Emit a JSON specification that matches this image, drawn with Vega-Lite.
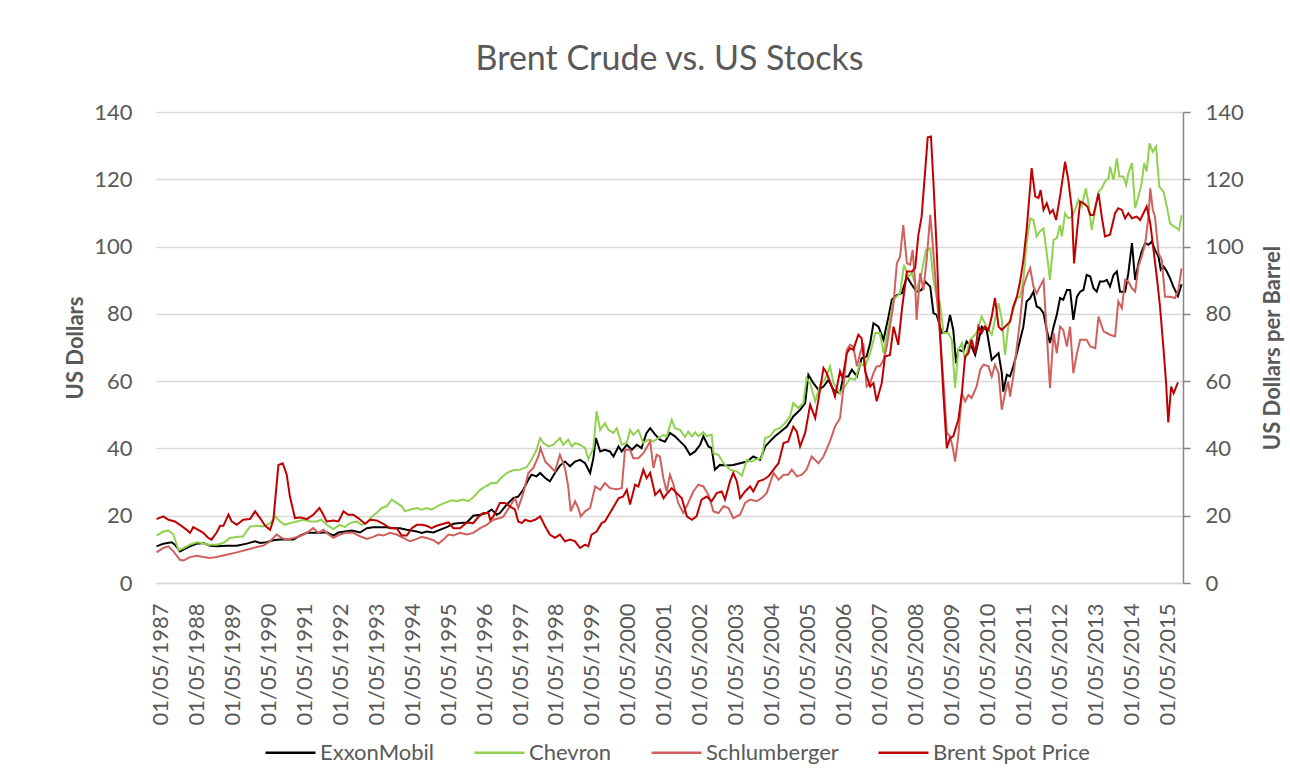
{
"$schema":"https://vega.github.io/schema/vega-lite/v6.json",
"width":1027,"height":471,
"autosize":{"type":"none"},
"padding":{"left":156,"top":112,"right":107,"bottom":199},
"background":"white",
"config":{"font":"Lato","view":{"stroke":null},
"axis":{"labelColor":"#595959","titleColor":"#595959","labelFont":"Lato","titleFont":"Lato","labelFontSize":22,"titleFontSize":22,"titleFontWeight":"bold"},
"legend":{"labelColor":"#595959","labelFont":"Lato","labelFontSize":22}},
"title":{"text":"Brent Crude vs. US Stocks","fontSize":34,"font":"Lato","fontWeight":"normal","color":"#595959","anchor":"middle","offset":24},
"encoding":{"x":{"field":"t","type":"quantitative","scale":{"domain":[1986.875,2015.44],"nice":false,"zero":false},
"axis":{"values":[1987,1988,1989,1990,1991,1992,1993,1994,1995,1996,1997,1998,1999,2000,2001,2002,2003,2004,2005,2006,2007,2008,2009,2010,2011,2012,2013,2014,2015],
"labelExpr":"'01/05/' + datum.value","labelAngle":270,"labelAlign":"right","labelBaseline":"middle","labelPadding":20,"ticks":false,"tickSize":0,"grid":false,"domain":true,"domainColor":"#D9D9D9","domainWidth":1.5,"title":null,"labelOverlap":false}},
"color":{"type":"nominal","scale":{"domain":["ExxonMobil","Chevron","Schlumberger","Brent Spot Price"],"range":["#000000","#92D050","#D0605E","#C00000"]},
"legend":{"title":null,"orient":"none","legendX":108,"legendY":614,"direction":"horizontal","symbolType":"stroke","symbolSize":2500,"symbolStrokeWidth":2.5,"labelOffset":3,"columnPadding":34}}},
"layer":[
{"encoding":{"y":{"field":"v","type":"quantitative","scale":{"domain":[0,140],"nice":false},
"axis":{"values":[0,20,40,60,80,100,120,140],"title":"US Dollars","grid":true,"gridColor":"#D9D9D9","gridWidth":1.5,"domain":false,"ticks":false,"tickSize":0,"labelPadding":24,"titlePadding":6}}},
"layer":[
{"data":{"values":[
{"t":1986.89,"v":10.9},{"t":1987.08,"v":11.7},{"t":1987.31,"v":12.1},{"t":1987.4,"v":11.4},{"t":1987.54,"v":9.4},{"t":1987.64,"v":9.9},{"t":1987.82,"v":10.9},{"t":1988.01,"v":11.7},{"t":1988.19,"v":11.9},{"t":1988.38,"v":11.1},{"t":1988.56,"v":10.9},{"t":1988.84,"v":11.1},{"t":1989.12,"v":11.1},{"t":1989.4,"v":11.7},{"t":1989.63,"v":12.4},{"t":1989.77,"v":11.9},{"t":1989.95,"v":12.1},{"t":1990.14,"v":12.7},{"t":1990.32,"v":12.9},{"t":1990.51,"v":12.9},{"t":1990.7,"v":12.9},{"t":1990.88,"v":14.1},{"t":1991.07,"v":14.9},{"t":1991.25,"v":14.9},{"t":1991.44,"v":14.9},{"t":1991.62,"v":15.1},{"t":1991.81,"v":14.1},{"t":1991.95,"v":15.0},{"t":1992.13,"v":15.3},{"t":1992.32,"v":15.6},{"t":1992.55,"v":15.0},{"t":1992.74,"v":16.3},{"t":1992.92,"v":16.6},{"t":1993.11,"v":16.6},{"t":1993.29,"v":16.6},{"t":1993.48,"v":16.3},{"t":1993.66,"v":16.3},{"t":1993.85,"v":15.8},{"t":1994.13,"v":15.3},{"t":1994.27,"v":14.9},{"t":1994.4,"v":15.3},{"t":1994.59,"v":15.0},{"t":1994.77,"v":15.8},{"t":1994.96,"v":16.6},{"t":1995.15,"v":17.6},{"t":1995.33,"v":17.8},{"t":1995.52,"v":18.0},{"t":1995.7,"v":20.0},{"t":1995.89,"v":20.3},{"t":1996.07,"v":20.8},{"t":1996.21,"v":21.8},{"t":1996.35,"v":20.3},{"t":1996.44,"v":20.8},{"t":1996.63,"v":23.3},{"t":1996.81,"v":25.2},{"t":1996.95,"v":25.7},{"t":1997.09,"v":27.7},{"t":1997.23,"v":30.7},{"t":1997.32,"v":32.2},{"t":1997.46,"v":31.7},{"t":1997.56,"v":32.7},{"t":1997.7,"v":31.2},{"t":1997.83,"v":30.2},{"t":1997.97,"v":32.7},{"t":1998.11,"v":34.9},{"t":1998.25,"v":36.1},{"t":1998.39,"v":34.7},{"t":1998.53,"v":36.1},{"t":1998.67,"v":36.6},{"t":1998.81,"v":35.6},{"t":1998.95,"v":32.7},{"t":1999.04,"v":37.1},{"t":1999.11,"v":43.1},{"t":1999.23,"v":39.1},{"t":1999.36,"v":39.6},{"t":1999.5,"v":39.1},{"t":1999.6,"v":37.6},{"t":1999.74,"v":40.6},{"t":1999.83,"v":39.1},{"t":1999.97,"v":41.1},{"t":2000.11,"v":39.6},{"t":2000.25,"v":41.1},{"t":2000.38,"v":40.1},{"t":2000.52,"v":44.6},{"t":2000.62,"v":46.0},{"t":2000.76,"v":44.1},{"t":2000.89,"v":42.6},{"t":2001.03,"v":42.0},{"t":2001.17,"v":44.6},{"t":2001.31,"v":43.6},{"t":2001.45,"v":42.1},{"t":2001.59,"v":40.6},{"t":2001.73,"v":38.1},{"t":2001.87,"v":39.1},{"t":2002.01,"v":41.1},{"t":2002.1,"v":43.6},{"t":2002.24,"v":40.6},{"t":2002.33,"v":40.1},{"t":2002.42,"v":33.7},{"t":2002.56,"v":35.1},{"t":2002.75,"v":34.9},{"t":2002.93,"v":35.1},{"t":2003.12,"v":35.6},{"t":2003.31,"v":36.1},{"t":2003.49,"v":37.6},{"t":2003.68,"v":36.6},{"t":2003.82,"v":40.6},{"t":2003.95,"v":42.1},{"t":2004.09,"v":43.6},{"t":2004.23,"v":44.8},{"t":2004.42,"v":46.5},{"t":2004.6,"v":49.5},{"t":2004.79,"v":51.5},{"t":2004.93,"v":53.5},{"t":2005.02,"v":61.9},{"t":2005.16,"v":59.4},{"t":2005.3,"v":57.4},{"t":2005.44,"v":58.4},{"t":2005.58,"v":60.4},{"t":2005.72,"v":57.4},{"t":2005.9,"v":56.4},{"t":2005.99,"v":61.4},{"t":2006.13,"v":61.4},{"t":2006.23,"v":63.4},{"t":2006.37,"v":61.4},{"t":2006.5,"v":66.8},{"t":2006.64,"v":67.3},{"t":2006.74,"v":71.3},{"t":2006.83,"v":77.2},{"t":2006.97,"v":76.2},{"t":2007.11,"v":72.3},{"t":2007.25,"v":79.2},{"t":2007.34,"v":84.2},{"t":2007.48,"v":85.6},{"t":2007.62,"v":86.1},{"t":2007.76,"v":91.1},{"t":2007.9,"v":88.6},{"t":2008.03,"v":86.6},{"t":2008.17,"v":87.1},{"t":2008.27,"v":89.6},{"t":2008.41,"v":88.1},{"t":2008.5,"v":80.2},{"t":2008.59,"v":79.7},{"t":2008.73,"v":74.3},{"t":2008.87,"v":74.8},{"t":2008.96,"v":79.7},{"t":2009.05,"v":75.2},{"t":2009.13,"v":65.3},{"t":2009.19,"v":69.3},{"t":2009.33,"v":68.8},{"t":2009.42,"v":71.8},{"t":2009.56,"v":70.3},{"t":2009.66,"v":67.8},{"t":2009.75,"v":71.8},{"t":2009.84,"v":76.2},{"t":2009.98,"v":75.2},{"t":2010.12,"v":66.3},{"t":2010.21,"v":67.3},{"t":2010.31,"v":68.3},{"t":2010.4,"v":62.4},{"t":2010.44,"v":56.9},{"t":2010.54,"v":61.9},{"t":2010.63,"v":61.4},{"t":2010.72,"v":64.4},{"t":2010.82,"v":68.3},{"t":2010.91,"v":72.3},{"t":2011.0,"v":76.2},{"t":2011.09,"v":83.7},{"t":2011.19,"v":84.7},{"t":2011.28,"v":86.6},{"t":2011.37,"v":82.2},{"t":2011.46,"v":81.7},{"t":2011.56,"v":80.2},{"t":2011.65,"v":75.2},{"t":2011.74,"v":71.3},{"t":2011.84,"v":76.2},{"t":2011.93,"v":79.7},{"t":2012.02,"v":84.7},{"t":2012.11,"v":84.2},{"t":2012.21,"v":87.1},{"t":2012.3,"v":87.1},{"t":2012.39,"v":78.2},{"t":2012.49,"v":85.1},{"t":2012.58,"v":86.6},{"t":2012.67,"v":87.1},{"t":2012.76,"v":91.6},{"t":2012.86,"v":91.1},{"t":2012.95,"v":87.6},{"t":2013.04,"v":86.6},{"t":2013.13,"v":89.6},{"t":2013.23,"v":89.6},{"t":2013.32,"v":90.1},{"t":2013.41,"v":88.1},{"t":2013.51,"v":91.6},{"t":2013.6,"v":92.6},{"t":2013.69,"v":86.6},{"t":2013.83,"v":86.6},{"t":2013.92,"v":92.1},{"t":2014.02,"v":101.0},{"t":2014.11,"v":90.1},{"t":2014.2,"v":95.0},{"t":2014.29,"v":98.5},{"t":2014.39,"v":101.0},{"t":2014.48,"v":100.5},{"t":2014.57,"v":101.5},{"t":2014.66,"v":99.0},{"t":2014.76,"v":97.0},{"t":2014.82,"v":93.1},{"t":2014.9,"v":94.1},{"t":2014.99,"v":92.6},{"t":2015.08,"v":90.6},{"t":2015.17,"v":88.1},{"t":2015.3,"v":85.3},{"t":2015.4,"v":88.8}]},
"mark":{"type":"line","strokeWidth":2},"encoding":{"color":{"datum":"ExxonMobil"}}},
{"data":{"values":[
{"t":1986.89,"v":14.1},{"t":1987.08,"v":15.3},{"t":1987.22,"v":15.6},{"t":1987.36,"v":14.4},{"t":1987.5,"v":9.7},{"t":1987.64,"v":10.4},{"t":1987.82,"v":11.4},{"t":1988.01,"v":12.1},{"t":1988.15,"v":11.9},{"t":1988.33,"v":11.4},{"t":1988.56,"v":11.4},{"t":1988.75,"v":11.9},{"t":1988.93,"v":13.4},{"t":1989.12,"v":13.7},{"t":1989.3,"v":13.9},{"t":1989.49,"v":16.8},{"t":1989.68,"v":17.0},{"t":1989.86,"v":16.8},{"t":1990.05,"v":17.8},{"t":1990.19,"v":19.8},{"t":1990.32,"v":18.3},{"t":1990.46,"v":17.3},{"t":1990.6,"v":17.8},{"t":1990.79,"v":18.3},{"t":1990.97,"v":18.8},{"t":1991.16,"v":18.3},{"t":1991.34,"v":18.3},{"t":1991.48,"v":18.8},{"t":1991.62,"v":17.3},{"t":1991.81,"v":16.0},{"t":1991.99,"v":17.3},{"t":1992.13,"v":16.6},{"t":1992.27,"v":17.8},{"t":1992.46,"v":18.3},{"t":1992.6,"v":17.3},{"t":1992.74,"v":17.8},{"t":1992.87,"v":19.6},{"t":1993.01,"v":20.8},{"t":1993.15,"v":22.3},{"t":1993.29,"v":22.8},{"t":1993.43,"v":24.8},{"t":1993.57,"v":23.8},{"t":1993.71,"v":22.8},{"t":1993.8,"v":21.3},{"t":1993.94,"v":21.8},{"t":1994.13,"v":22.3},{"t":1994.27,"v":21.8},{"t":1994.4,"v":22.3},{"t":1994.54,"v":21.8},{"t":1994.73,"v":23.0},{"t":1994.91,"v":23.8},{"t":1995.1,"v":24.6},{"t":1995.24,"v":24.3},{"t":1995.42,"v":24.8},{"t":1995.56,"v":24.3},{"t":1995.7,"v":25.5},{"t":1995.89,"v":27.7},{"t":1996.07,"v":28.9},{"t":1996.21,"v":29.7},{"t":1996.35,"v":29.7},{"t":1996.44,"v":30.9},{"t":1996.63,"v":32.7},{"t":1996.81,"v":33.5},{"t":1997.0,"v":33.7},{"t":1997.19,"v":34.5},{"t":1997.32,"v":36.6},{"t":1997.46,"v":39.6},{"t":1997.56,"v":43.1},{"t":1997.65,"v":41.6},{"t":1997.79,"v":40.6},{"t":1997.93,"v":41.1},{"t":1998.11,"v":43.1},{"t":1998.2,"v":41.1},{"t":1998.34,"v":42.6},{"t":1998.44,"v":40.6},{"t":1998.53,"v":41.6},{"t":1998.67,"v":41.1},{"t":1998.81,"v":40.1},{"t":1998.9,"v":36.8},{"t":1999.04,"v":40.1},{"t":1999.13,"v":51.0},{"t":1999.23,"v":45.5},{"t":1999.36,"v":47.5},{"t":1999.46,"v":45.5},{"t":1999.6,"v":44.6},{"t":1999.69,"v":46.0},{"t":1999.83,"v":41.1},{"t":1999.97,"v":41.6},{"t":2000.06,"v":45.5},{"t":2000.15,"v":44.1},{"t":2000.29,"v":45.5},{"t":2000.43,"v":41.6},{"t":2000.57,"v":42.6},{"t":2000.71,"v":42.1},{"t":2000.85,"v":43.1},{"t":2000.99,"v":44.0},{"t":2001.08,"v":43.6},{"t":2001.22,"v":48.5},{"t":2001.31,"v":46.0},{"t":2001.45,"v":45.5},{"t":2001.59,"v":43.4},{"t":2001.68,"v":45.0},{"t":2001.78,"v":43.6},{"t":2001.87,"v":44.8},{"t":2001.96,"v":43.6},{"t":2002.1,"v":44.8},{"t":2002.19,"v":43.6},{"t":2002.33,"v":44.1},{"t":2002.38,"v":38.6},{"t":2002.52,"v":38.1},{"t":2002.66,"v":35.6},{"t":2002.84,"v":33.7},{"t":2003.03,"v":33.2},{"t":2003.17,"v":31.9},{"t":2003.31,"v":36.6},{"t":2003.44,"v":36.1},{"t":2003.58,"v":36.8},{"t":2003.72,"v":37.1},{"t":2003.82,"v":43.1},{"t":2003.95,"v":43.6},{"t":2004.09,"v":45.5},{"t":2004.23,"v":46.0},{"t":2004.37,"v":47.5},{"t":2004.51,"v":49.5},{"t":2004.6,"v":53.5},{"t":2004.74,"v":52.0},{"t":2004.88,"v":53.5},{"t":2004.97,"v":60.9},{"t":2005.07,"v":59.4},{"t":2005.21,"v":54.0},{"t":2005.35,"v":58.9},{"t":2005.48,"v":60.4},{"t":2005.62,"v":64.4},{"t":2005.72,"v":59.4},{"t":2005.9,"v":56.4},{"t":2006.04,"v":58.4},{"t":2006.18,"v":60.9},{"t":2006.32,"v":60.4},{"t":2006.46,"v":65.3},{"t":2006.6,"v":64.4},{"t":2006.74,"v":68.3},{"t":2006.88,"v":74.3},{"t":2007.01,"v":74.3},{"t":2007.11,"v":68.3},{"t":2007.25,"v":76.2},{"t":2007.39,"v":84.2},{"t":2007.57,"v":86.1},{"t":2007.68,"v":94.6},{"t":2007.8,"v":91.1},{"t":2007.9,"v":92.1},{"t":2008.03,"v":87.1},{"t":2008.17,"v":92.1},{"t":2008.29,"v":99.0},{"t":2008.41,"v":99.5},{"t":2008.5,"v":90.1},{"t":2008.59,"v":85.1},{"t":2008.68,"v":83.2},{"t":2008.78,"v":74.3},{"t":2008.91,"v":74.3},{"t":2009.01,"v":72.3},{"t":2009.1,"v":57.9},{"t":2009.19,"v":69.3},{"t":2009.29,"v":71.3},{"t":2009.38,"v":66.3},{"t":2009.52,"v":72.3},{"t":2009.7,"v":74.3},{"t":2009.84,"v":79.2},{"t":2009.98,"v":76.2},{"t":2010.12,"v":73.8},{"t":2010.21,"v":78.2},{"t":2010.31,"v":83.2},{"t":2010.4,"v":78.2},{"t":2010.49,"v":67.8},{"t":2010.58,"v":76.2},{"t":2010.72,"v":81.2},{"t":2010.82,"v":84.7},{"t":2010.91,"v":85.1},{"t":2011.0,"v":90.1},{"t":2011.09,"v":101.0},{"t":2011.19,"v":108.4},{"t":2011.28,"v":107.9},{"t":2011.37,"v":103.0},{"t":2011.46,"v":104.5},{"t":2011.56,"v":105.4},{"t":2011.65,"v":98.0},{"t":2011.74,"v":90.1},{"t":2011.84,"v":102.0},{"t":2011.93,"v":102.5},{"t":2012.02,"v":106.4},{"t":2012.07,"v":103.0},{"t":2012.16,"v":109.9},{"t":2012.25,"v":108.4},{"t":2012.35,"v":108.9},{"t":2012.44,"v":110.9},{"t":2012.53,"v":113.9},{"t":2012.62,"v":111.9},{"t":2012.74,"v":117.3},{"t":2012.81,"v":112.9},{"t":2012.9,"v":105.0},{"t":2013.0,"v":110.9},{"t":2013.09,"v":116.3},{"t":2013.18,"v":117.3},{"t":2013.27,"v":119.3},{"t":2013.37,"v":120.3},{"t":2013.41,"v":123.8},{"t":2013.51,"v":119.8},{"t":2013.6,"v":126.2},{"t":2013.67,"v":120.8},{"t":2013.78,"v":120.8},{"t":2013.86,"v":118.3},{"t":2013.92,"v":121.8},{"t":2014.02,"v":124.8},{"t":2014.11,"v":111.4},{"t":2014.2,"v":114.9},{"t":2014.29,"v":118.8},{"t":2014.36,"v":124.8},{"t":2014.43,"v":122.3},{"t":2014.51,"v":130.7},{"t":2014.6,"v":128.2},{"t":2014.69,"v":129.7},{"t":2014.78,"v":117.8},{"t":2014.9,"v":116.3},{"t":2014.99,"v":111.9},{"t":2015.08,"v":106.9},{"t":2015.17,"v":106.1},{"t":2015.27,"v":105.5},{"t":2015.33,"v":104.9},{"t":2015.4,"v":109.3}]},
"mark":{"type":"line","strokeWidth":2},"encoding":{"color":{"datum":"Chevron"}}},
{"data":{"values":[
{"t":1986.89,"v":9.1},{"t":1987.08,"v":10.4},{"t":1987.22,"v":10.9},{"t":1987.36,"v":9.4},{"t":1987.54,"v":6.9},{"t":1987.64,"v":6.7},{"t":1987.82,"v":7.7},{"t":1988.01,"v":8.1},{"t":1988.19,"v":7.7},{"t":1988.38,"v":7.4},{"t":1988.56,"v":7.7},{"t":1988.84,"v":8.4},{"t":1989.12,"v":9.1},{"t":1989.4,"v":9.9},{"t":1989.68,"v":10.7},{"t":1989.86,"v":11.1},{"t":1990.05,"v":12.4},{"t":1990.23,"v":14.4},{"t":1990.37,"v":13.4},{"t":1990.51,"v":12.9},{"t":1990.7,"v":13.4},{"t":1990.88,"v":13.9},{"t":1991.07,"v":14.9},{"t":1991.25,"v":16.3},{"t":1991.39,"v":14.9},{"t":1991.53,"v":15.8},{"t":1991.66,"v":14.6},{"t":1991.81,"v":13.4},{"t":1991.99,"v":14.4},{"t":1992.18,"v":15.0},{"t":1992.36,"v":14.9},{"t":1992.55,"v":13.9},{"t":1992.74,"v":13.1},{"t":1992.92,"v":13.7},{"t":1993.06,"v":14.4},{"t":1993.2,"v":14.1},{"t":1993.38,"v":14.9},{"t":1993.57,"v":14.4},{"t":1993.75,"v":13.4},{"t":1993.94,"v":12.4},{"t":1994.08,"v":12.9},{"t":1994.27,"v":13.7},{"t":1994.4,"v":13.4},{"t":1994.59,"v":12.7},{"t":1994.73,"v":11.7},{"t":1994.87,"v":12.9},{"t":1995.01,"v":14.4},{"t":1995.15,"v":14.1},{"t":1995.33,"v":14.9},{"t":1995.52,"v":14.4},{"t":1995.7,"v":14.9},{"t":1995.89,"v":16.3},{"t":1996.07,"v":17.3},{"t":1996.26,"v":18.8},{"t":1996.44,"v":19.3},{"t":1996.54,"v":19.8},{"t":1996.72,"v":22.8},{"t":1996.86,"v":25.2},{"t":1996.95,"v":22.3},{"t":1997.09,"v":26.7},{"t":1997.23,"v":32.7},{"t":1997.37,"v":34.2},{"t":1997.51,"v":37.6},{"t":1997.57,"v":40.1},{"t":1997.7,"v":36.1},{"t":1997.83,"v":34.7},{"t":1997.97,"v":33.2},{"t":1998.11,"v":38.1},{"t":1998.25,"v":34.2},{"t":1998.34,"v":28.7},{"t":1998.41,"v":21.3},{"t":1998.53,"v":24.3},{"t":1998.62,"v":22.3},{"t":1998.69,"v":19.8},{"t":1998.81,"v":21.3},{"t":1998.95,"v":22.3},{"t":1999.09,"v":28.7},{"t":1999.23,"v":27.7},{"t":1999.36,"v":29.7},{"t":1999.5,"v":28.2},{"t":1999.69,"v":27.9},{"t":1999.83,"v":28.2},{"t":1999.92,"v":39.6},{"t":2000.06,"v":39.6},{"t":2000.15,"v":37.1},{"t":2000.29,"v":37.1},{"t":2000.43,"v":38.6},{"t":2000.62,"v":42.1},{"t":2000.71,"v":34.2},{"t":2000.8,"v":38.1},{"t":2000.89,"v":37.6},{"t":2000.99,"v":31.0},{"t":2001.08,"v":27.2},{"t":2001.17,"v":32.2},{"t":2001.27,"v":29.2},{"t":2001.4,"v":23.8},{"t":2001.54,"v":20.8},{"t":2001.68,"v":23.8},{"t":2001.82,"v":27.2},{"t":2001.96,"v":29.2},{"t":2002.1,"v":28.7},{"t":2002.24,"v":26.2},{"t":2002.38,"v":21.3},{"t":2002.52,"v":20.8},{"t":2002.66,"v":22.8},{"t":2002.8,"v":22.3},{"t":2002.93,"v":19.3},{"t":2003.12,"v":20.3},{"t":2003.26,"v":23.8},{"t":2003.4,"v":24.8},{"t":2003.58,"v":24.3},{"t":2003.72,"v":25.2},{"t":2003.86,"v":26.7},{"t":2004.05,"v":32.7},{"t":2004.19,"v":30.7},{"t":2004.33,"v":32.2},{"t":2004.46,"v":32.2},{"t":2004.56,"v":33.7},{"t":2004.7,"v":31.7},{"t":2004.84,"v":32.2},{"t":2004.97,"v":33.7},{"t":2005.11,"v":37.6},{"t":2005.3,"v":35.6},{"t":2005.44,"v":37.6},{"t":2005.62,"v":42.1},{"t":2005.76,"v":46.5},{"t":2005.9,"v":49.0},{"t":2005.99,"v":57.4},{"t":2006.09,"v":69.3},{"t":2006.18,"v":70.8},{"t":2006.27,"v":70.3},{"t":2006.37,"v":64.4},{"t":2006.46,"v":68.3},{"t":2006.55,"v":71.3},{"t":2006.64,"v":58.4},{"t":2006.74,"v":59.4},{"t":2006.83,"v":62.4},{"t":2006.92,"v":64.4},{"t":2007.01,"v":64.4},{"t":2007.11,"v":66.3},{"t":2007.2,"v":70.3},{"t":2007.29,"v":76.2},{"t":2007.39,"v":83.2},{"t":2007.48,"v":95.0},{"t":2007.57,"v":97.0},{"t":2007.66,"v":106.4},{"t":2007.76,"v":95.0},{"t":2007.85,"v":94.6},{"t":2007.92,"v":99.0},{"t":2007.99,"v":89.1},{"t":2008.03,"v":78.2},{"t":2008.13,"v":92.1},{"t":2008.22,"v":87.1},{"t":2008.31,"v":96.0},{"t":2008.41,"v":109.4},{"t":2008.5,"v":98.0},{"t":2008.59,"v":85.1},{"t":2008.68,"v":74.3},{"t":2008.78,"v":59.4},{"t":2008.87,"v":44.6},{"t":2008.96,"v":43.6},{"t":2009.04,"v":40.1},{"t":2009.1,"v":36.1},{"t":2009.19,"v":43.6},{"t":2009.29,"v":56.4},{"t":2009.38,"v":54.0},{"t":2009.47,"v":55.9},{"t":2009.56,"v":55.0},{"t":2009.7,"v":58.4},{"t":2009.8,"v":63.4},{"t":2009.89,"v":64.9},{"t":2010.03,"v":64.4},{"t":2010.12,"v":61.4},{"t":2010.21,"v":64.9},{"t":2010.31,"v":62.4},{"t":2010.4,"v":51.5},{"t":2010.49,"v":56.4},{"t":2010.58,"v":59.9},{"t":2010.63,"v":55.4},{"t":2010.72,"v":61.4},{"t":2010.82,"v":70.3},{"t":2010.91,"v":78.2},{"t":2011.0,"v":88.1},{"t":2011.09,"v":91.1},{"t":2011.19,"v":93.6},{"t":2011.28,"v":88.1},{"t":2011.37,"v":86.1},{"t":2011.46,"v":88.1},{"t":2011.56,"v":90.1},{"t":2011.65,"v":74.3},{"t":2011.74,"v":57.9},{"t":2011.84,"v":74.3},{"t":2011.93,"v":68.3},{"t":2012.02,"v":76.2},{"t":2012.11,"v":75.2},{"t":2012.21,"v":70.3},{"t":2012.3,"v":76.2},{"t":2012.39,"v":62.4},{"t":2012.49,"v":68.3},{"t":2012.58,"v":72.3},{"t":2012.76,"v":72.3},{"t":2012.86,"v":70.3},{"t":2013.0,"v":69.8},{"t":2013.09,"v":79.2},{"t":2013.23,"v":74.8},{"t":2013.41,"v":73.8},{"t":2013.55,"v":73.3},{"t":2013.64,"v":83.7},{"t":2013.74,"v":81.7},{"t":2013.83,"v":90.1},{"t":2013.92,"v":89.6},{"t":2014.02,"v":87.6},{"t":2014.11,"v":86.6},{"t":2014.2,"v":94.1},{"t":2014.29,"v":97.0},{"t":2014.39,"v":101.0},{"t":2014.48,"v":108.9},{"t":2014.53,"v":117.3},{"t":2014.6,"v":110.9},{"t":2014.66,"v":108.9},{"t":2014.76,"v":98.0},{"t":2014.85,"v":96.0},{"t":2014.94,"v":85.1},{"t":2015.08,"v":85.1},{"t":2015.22,"v":84.7},{"t":2015.31,"v":87.1},{"t":2015.4,"v":93.5}]},
"mark":{"type":"line","strokeWidth":2},"encoding":{"color":{"datum":"Schlumberger"}}}
]},
{"data":{"values":[
{"t":1986.89,"v":19.0},{"t":1987.08,"v":19.8},{"t":1987.22,"v":18.8},{"t":1987.4,"v":18.3},{"t":1987.54,"v":17.3},{"t":1987.73,"v":15.8},{"t":1987.82,"v":14.9},{"t":1987.91,"v":16.6},{"t":1988.05,"v":15.8},{"t":1988.19,"v":14.9},{"t":1988.33,"v":13.4},{"t":1988.42,"v":12.9},{"t":1988.56,"v":15.0},{"t":1988.66,"v":17.0},{"t":1988.75,"v":17.0},{"t":1988.89,"v":20.3},{"t":1988.98,"v":18.3},{"t":1989.12,"v":17.3},{"t":1989.3,"v":18.8},{"t":1989.49,"v":19.0},{"t":1989.63,"v":21.3},{"t":1989.77,"v":19.3},{"t":1989.91,"v":17.0},{"t":1990.05,"v":15.8},{"t":1990.14,"v":18.8},{"t":1990.28,"v":35.1},{"t":1990.4,"v":35.6},{"t":1990.51,"v":32.2},{"t":1990.6,"v":25.7},{"t":1990.74,"v":19.3},{"t":1990.88,"v":19.5},{"t":1991.07,"v":19.0},{"t":1991.25,"v":20.3},{"t":1991.42,"v":22.3},{"t":1991.53,"v":20.3},{"t":1991.62,"v":18.3},{"t":1991.81,"v":18.6},{"t":1991.95,"v":18.3},{"t":1992.09,"v":21.3},{"t":1992.22,"v":20.3},{"t":1992.36,"v":20.3},{"t":1992.5,"v":19.3},{"t":1992.69,"v":17.6},{"t":1992.83,"v":18.8},{"t":1993.01,"v":18.6},{"t":1993.2,"v":17.6},{"t":1993.38,"v":16.3},{"t":1993.57,"v":16.3},{"t":1993.71,"v":14.1},{"t":1993.85,"v":14.1},{"t":1993.99,"v":16.3},{"t":1994.13,"v":17.3},{"t":1994.27,"v":17.3},{"t":1994.4,"v":17.0},{"t":1994.54,"v":16.3},{"t":1994.68,"v":17.0},{"t":1994.87,"v":17.6},{"t":1995.01,"v":18.0},{"t":1995.15,"v":16.3},{"t":1995.33,"v":16.3},{"t":1995.52,"v":18.0},{"t":1995.7,"v":17.8},{"t":1995.84,"v":19.6},{"t":1995.98,"v":20.8},{"t":1996.12,"v":20.8},{"t":1996.17,"v":18.8},{"t":1996.26,"v":19.8},{"t":1996.35,"v":21.8},{"t":1996.44,"v":23.8},{"t":1996.58,"v":23.8},{"t":1996.72,"v":22.8},{"t":1996.86,"v":21.8},{"t":1996.95,"v":18.3},{"t":1997.05,"v":17.8},{"t":1997.14,"v":18.8},{"t":1997.28,"v":18.3},{"t":1997.42,"v":18.8},{"t":1997.56,"v":19.8},{"t":1997.7,"v":16.8},{"t":1997.83,"v":14.4},{"t":1997.97,"v":13.4},{"t":1998.11,"v":14.4},{"t":1998.25,"v":12.4},{"t":1998.39,"v":12.9},{"t":1998.53,"v":12.4},{"t":1998.67,"v":10.4},{"t":1998.81,"v":11.4},{"t":1998.9,"v":10.9},{"t":1998.99,"v":14.4},{"t":1999.13,"v":15.3},{"t":1999.27,"v":17.8},{"t":1999.36,"v":18.3},{"t":1999.5,"v":20.8},{"t":1999.64,"v":23.3},{"t":1999.74,"v":25.2},{"t":1999.87,"v":25.7},{"t":1999.97,"v":27.7},{"t":2000.06,"v":23.3},{"t":2000.2,"v":29.2},{"t":2000.29,"v":28.7},{"t":2000.43,"v":33.7},{"t":2000.52,"v":31.2},{"t":2000.62,"v":32.7},{"t":2000.76,"v":26.2},{"t":2000.89,"v":27.7},{"t":2000.99,"v":25.2},{"t":2001.08,"v":26.5},{"t":2001.22,"v":28.2},{"t":2001.36,"v":26.7},{"t":2001.5,"v":25.2},{"t":2001.64,"v":19.8},{"t":2001.78,"v":18.8},{"t":2001.91,"v":19.8},{"t":2002.05,"v":24.8},{"t":2002.19,"v":25.7},{"t":2002.33,"v":24.3},{"t":2002.47,"v":26.7},{"t":2002.61,"v":27.2},{"t":2002.7,"v":24.8},{"t":2002.84,"v":30.2},{"t":2002.93,"v":32.7},{"t":2003.03,"v":30.2},{"t":2003.12,"v":25.2},{"t":2003.26,"v":27.2},{"t":2003.4,"v":28.7},{"t":2003.49,"v":27.2},{"t":2003.63,"v":30.2},{"t":2003.77,"v":30.7},{"t":2003.91,"v":31.7},{"t":2004.05,"v":33.7},{"t":2004.19,"v":35.6},{"t":2004.33,"v":41.6},{"t":2004.46,"v":42.1},{"t":2004.6,"v":46.5},{"t":2004.7,"v":45.0},{"t":2004.79,"v":40.6},{"t":2004.93,"v":44.6},{"t":2005.07,"v":53.0},{"t":2005.21,"v":49.0},{"t":2005.3,"v":54.5},{"t":2005.44,"v":63.9},{"t":2005.53,"v":62.4},{"t":2005.67,"v":58.4},{"t":2005.76,"v":55.4},{"t":2005.9,"v":62.9},{"t":2005.97,"v":60.9},{"t":2006.09,"v":68.3},{"t":2006.18,"v":69.8},{"t":2006.27,"v":69.3},{"t":2006.41,"v":73.8},{"t":2006.5,"v":72.8},{"t":2006.6,"v":62.9},{"t":2006.74,"v":58.4},{"t":2006.83,"v":59.4},{"t":2006.92,"v":54.0},{"t":2007.06,"v":59.4},{"t":2007.15,"v":67.3},{"t":2007.29,"v":67.8},{"t":2007.39,"v":76.2},{"t":2007.52,"v":70.8},{"t":2007.62,"v":81.2},{"t":2007.76,"v":92.6},{"t":2007.9,"v":92.6},{"t":2007.99,"v":93.6},{"t":2008.08,"v":103.5},{"t":2008.17,"v":108.9},{"t":2008.27,"v":122.8},{"t":2008.34,"v":132.5},{"t":2008.43,"v":132.7},{"t":2008.5,"v":118.8},{"t":2008.59,"v":99.0},{"t":2008.68,"v":74.3},{"t":2008.78,"v":55.4},{"t":2008.87,"v":40.1},{"t":2008.96,"v":43.1},{"t":2009.05,"v":43.6},{"t":2009.19,"v":48.5},{"t":2009.29,"v":56.4},{"t":2009.38,"v":67.3},{"t":2009.47,"v":68.3},{"t":2009.56,"v":72.3},{"t":2009.66,"v":68.3},{"t":2009.75,"v":76.2},{"t":2009.84,"v":74.3},{"t":2009.93,"v":76.2},{"t":2010.03,"v":75.2},{"t":2010.12,"v":79.2},{"t":2010.21,"v":84.7},{"t":2010.31,"v":76.2},{"t":2010.4,"v":75.2},{"t":2010.49,"v":76.2},{"t":2010.63,"v":77.7},{"t":2010.72,"v":82.2},{"t":2010.82,"v":85.1},{"t":2010.91,"v":89.6},{"t":2011.0,"v":96.0},{"t":2011.09,"v":104.9},{"t":2011.19,"v":117.8},{"t":2011.23,"v":123.3},{"t":2011.33,"v":114.9},{"t":2011.42,"v":114.4},{"t":2011.48,"v":116.8},{"t":2011.56,"v":110.9},{"t":2011.65,"v":112.9},{"t":2011.74,"v":109.9},{"t":2011.82,"v":110.9},{"t":2011.91,"v":107.9},{"t":2012.02,"v":114.9},{"t":2012.16,"v":125.2},{"t":2012.25,"v":119.8},{"t":2012.35,"v":110.9},{"t":2012.41,"v":95.0},{"t":2012.5,"v":105.4},{"t":2012.58,"v":113.4},{"t":2012.67,"v":112.9},{"t":2012.78,"v":111.9},{"t":2012.86,"v":109.4},{"t":2012.95,"v":109.4},{"t":2013.09,"v":115.8},{"t":2013.18,"v":108.9},{"t":2013.27,"v":103.0},{"t":2013.41,"v":103.5},{"t":2013.55,"v":109.9},{"t":2013.64,"v":111.4},{"t":2013.74,"v":110.9},{"t":2013.83,"v":108.4},{"t":2013.92,"v":109.9},{"t":2014.02,"v":108.4},{"t":2014.15,"v":108.9},{"t":2014.25,"v":107.9},{"t":2014.34,"v":109.9},{"t":2014.43,"v":111.9},{"t":2014.53,"v":106.9},{"t":2014.62,"v":99.0},{"t":2014.71,"v":91.1},{"t":2014.8,"v":82.2},{"t":2014.9,"v":69.3},{"t":2014.97,"v":59.4},{"t":2015.03,"v":47.7},{"t":2015.11,"v":58.4},{"t":2015.18,"v":56.4},{"t":2015.3,"v":59.6}]},
"mark":{"type":"line","strokeWidth":2},
"encoding":{"color":{"datum":"Brent Spot Price"},
"y":{"field":"v","type":"quantitative","scale":{"domain":[0,140],"nice":false},
"axis":{"orient":"right","values":[0,20,40,60,80,100,120,140],"title":"US Dollars per Barrel","titleAngle":270,"titleBaseline":"top","titlePadding":19,"grid":false,"domain":true,"domainColor":"#868686","domainWidth":1.5,"ticks":true,"tickColor":"#868686","tickWidth":1.5,"tickSize":7,"labelPadding":15}}}}
],
"resolve":{"scale":{"y":"independent"}}
}
